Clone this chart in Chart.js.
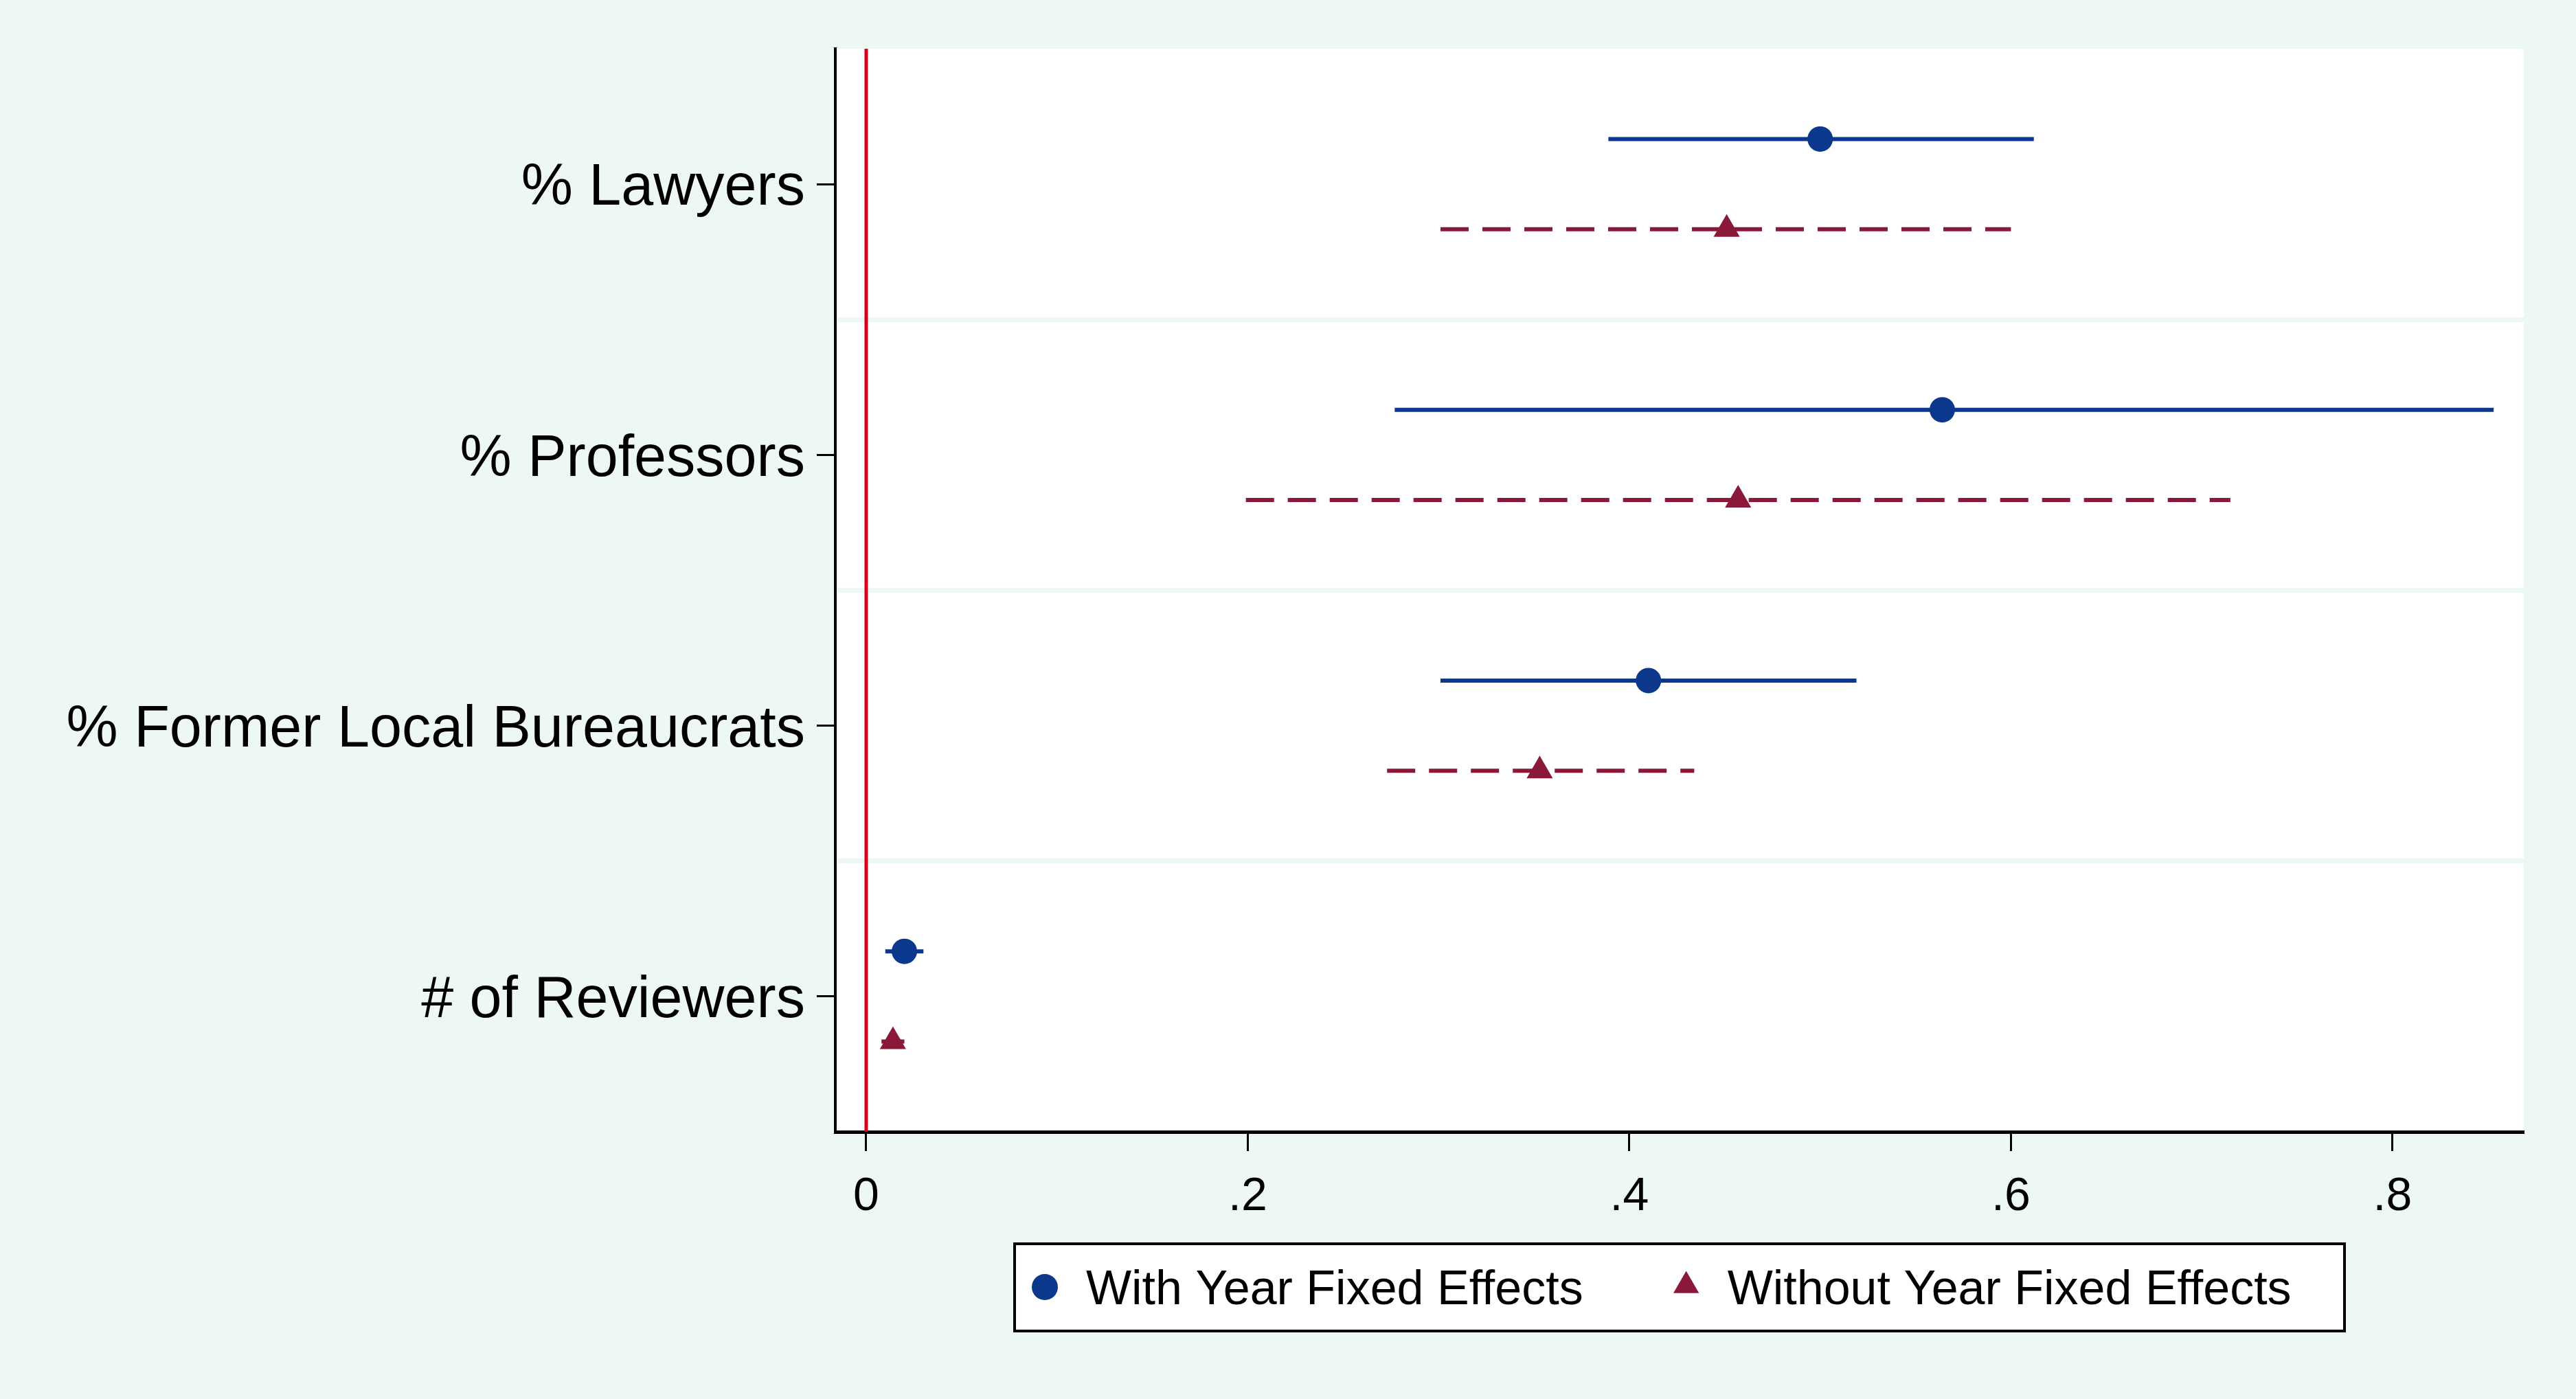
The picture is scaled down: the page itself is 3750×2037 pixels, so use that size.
<!DOCTYPE html>
<html>
<head>
<meta charset="utf-8">
<script src="https://cdn.jsdelivr.net/npm/chart.js@4.4.0/dist/chart.umd.min.js"></script>
<style>
  html, body { margin: 0; padding: 0; background: #edf8f4; }
  #wrap { width: 3750px; height: 2037px; }
</style>
</head>
<body>
<div id="wrap"><canvas id="c" width="3750" height="2037"></canvas></div>
<script>
// ---- Data ----
const categories = ['% Lawyers', '% Professors', '% Former Local Bureaucrats', '# of Reviewers'];
const seriesNames = ['With Year Fixed Effects', 'Without Year Fixed Effects'];

const withFE     = [0.500, 0.564, 0.410, 0.020];
const withFELo   = [0.389, 0.277, 0.301, 0.010];
const withFEHi   = [0.612, 0.853, 0.519, 0.030];

const withoutFE   = [0.451, 0.457, 0.353, 0.014];
const withoutFELo = [0.301, 0.199, 0.273, 0.008];
const withoutFEHi = [0.600, 0.715, 0.434, 0.020];

const xTicks = [0, 0.2, 0.4, 0.6, 0.8];
const xTickLabels = ['0', '.2', '.4', '.6', '.8'];
const referenceLine = [0];

// ---- Styling ----
const FONT = '"Liberation Sans", Arial, Helvetica, sans-serif';
const BLUE = '#0b378c';
const MAROON = '#8a1838';
const REDLINE = '#d6001c';
const BG = '#edf8f4';
const OFFSET = 1 / 6;

const catPos = categories.map((_, i) => i + 1);

const datasets = [];
// markers (drawn on top)
datasets.push({
  label: seriesNames[0], type: 'scatter', order: 0,
  data: withFE.map((v, i) => ({ x: v, y: catPos[i] - OFFSET })),
  pointStyle: 'circle', pointRadius: 18.5, pointBorderWidth: 0,
  backgroundColor: BLUE, borderColor: BLUE, showLine: false
});
datasets.push({
  label: seriesNames[1], type: 'scatter', order: 0,
  data: withoutFE.map((v, i) => ({ x: v, y: catPos[i] + OFFSET })),
  pointStyle: 'triangle', pointRadius: 22, pointBorderWidth: 0,
  backgroundColor: MAROON, borderColor: MAROON, showLine: false
});
// confidence intervals
categories.forEach((c, i) => {
  datasets.push({
    label: 'ci1_' + i, type: 'scatter', order: 2, showLine: true,
    data: [{ x: withFELo[i], y: catPos[i] - OFFSET }, { x: withFEHi[i], y: catPos[i] - OFFSET }],
    borderColor: BLUE, borderWidth: 6, pointRadius: 0, borderCapStyle: 'butt'
  });
  datasets.push({
    label: 'ci2_' + i, type: 'scatter', order: 2, showLine: true,
    data: [{ x: withoutFELo[i], y: catPos[i] + OFFSET }, { x: withoutFEHi[i], y: catPos[i] + OFFSET }],
    borderColor: MAROON, borderWidth: 6, borderDash: [41, 20], pointRadius: 0, borderCapStyle: 'butt'
  });
});
// reference line at 0
datasets.push({
  label: 'ref', type: 'scatter', order: 3, showLine: true,
  data: [{ x: referenceLine[0], y: 0.5 }, { x: referenceLine[0], y: categories.length + 0.5 }],
  borderColor: REDLINE, borderWidth: 5, pointRadius: 0
});

const plotBg = {
  id: 'plotBg',
  beforeDraw(chart) {
    const { ctx, chartArea: a } = chart;
    ctx.save();
    ctx.fillStyle = BG;
    ctx.fillRect(0, 0, chart.width, chart.height);
    ctx.fillStyle = '#ffffff';
    ctx.fillRect(a.left, a.top, a.right - a.left, a.bottom - a.top);
    ctx.restore();
  }
};

function drawMarker(ctx, style, r, x, y) {
  if (Chart.helpers && Chart.helpers.drawPoint) {
    Chart.helpers.drawPoint(ctx, { pointStyle: style, radius: r, borderWidth: 0, rotation: 0 }, x, y);
    return;
  }
  ctx.beginPath();
  if (style === 'circle') {
    ctx.arc(x, y, r, 0, Math.PI * 2);
  } else {
    for (let k = 0; k < 3; k++) {
      const a = k * 2 * Math.PI / 3;
      const px = x + Math.sin(a) * r, py = y - Math.cos(a) * r;
      k === 0 ? ctx.moveTo(px, py) : ctx.lineTo(px, py);
    }
    ctx.closePath();
  }
  ctx.fill();
}

const boxLegend = {
  id: 'boxLegend',
  afterDraw(chart) {
    const { ctx, chartArea: a } = chart;
    const cx = (a.left + a.right) / 2;
    const w = 1936, h = 127;
    const left = cx - w / 2, top = a.bottom + 163;
    ctx.save();
    ctx.fillStyle = '#ffffff';
    ctx.fillRect(left, top, w, h);
    ctx.strokeStyle = '#000000';
    ctx.lineWidth = 4;
    ctx.strokeRect(left, top, w, h);
    ctx.font = '70px ' + FONT;
    ctx.textBaseline = 'alphabetic';
    ctx.textAlign = 'left';
    const cy = top + 63;
    let x = left + 44;
    const items = [
      { text: seriesNames[0], style: 'circle', r: 19, color: BLUE },
      { text: seriesNames[1], style: 'triangle', r: 21.5, color: MAROON }
    ];
    items.forEach(it => {
      ctx.fillStyle = it.color;
      drawMarker(ctx, it.style, it.r, x, it.style === 'triangle' ? cy - 2 : cy);
      ctx.fillStyle = '#000000';
      ctx.fillText(it.text, x + 60, cy + 25);
      x = x + 60 + ctx.measureText(it.text).width + 150;
    });
    ctx.restore();
  }
};

new Chart(document.getElementById('c'), {
  type: 'scatter',
  data: { datasets },
  plugins: [plotBg, boxLegend],
  options: {
    responsive: false,
    devicePixelRatio: 1,
    animation: false,
    layout: { padding: { top: 71, right: 76, left: 0, bottom: 0 } },
    plugins: { legend: { display: false }, tooltip: { enabled: false } },
    scales: {
      x: {
        type: 'linear', position: 'bottom',
        min: -0.0162, max: 0.8688,
        afterBuildTicks: s => { s.ticks = xTicks.map(v => ({ value: v })); },
        afterFit: s => { s.height = 389; },
        ticks: {
          callback: (v) => { const i = xTicks.indexOf(v); return i >= 0 ? xTickLabels[i] : ''; },
          font: { family: FONT, size: 68 }, color: '#000', padding: 26, maxRotation: 0, autoSkip: false
        },
        grid: { drawOnChartArea: false, drawTicks: true, tickLength: 28, tickWidth: 3, tickColor: '#000' },
        border: { display: true, color: '#000', width: 5 }
      },
      y: {
        type: 'linear', position: 'left', reverse: true,
        min: 0.5, max: categories.length + 0.5,
        afterBuildTicks: s => { s.ticks = catPos.map(v => ({ value: v })); },
        afterFit: s => { s.width = 1216; },
        ticks: {
          callback: (v) => { const i = catPos.indexOf(v); return i >= 0 ? categories[i] : ''; },
          font: { family: FONT, size: 84.5 }, color: '#000', padding: 17, autoSkip: false, labelOffset: 7
        },
        grid: { drawOnChartArea: false, drawTicks: true, tickLength: 27, tickWidth: 3, tickColor: '#000' },
        border: { display: true, color: '#000', width: 4 }
      },
      yBands: {
        type: 'linear', position: 'right', reverse: true,
        min: 0.5, max: categories.length + 0.5,
        afterBuildTicks: s => { s.ticks = catPos.slice(0, -1).map(v => ({ value: v + 0.5 })); },
        afterFit: s => { s.width = 0; },
        ticks: { display: false },
        grid: { drawOnChartArea: true, drawTicks: false, color: BG, lineWidth: 7 },
        border: { display: false }
      }
    }
  }
});
</script>
</body>
</html>
